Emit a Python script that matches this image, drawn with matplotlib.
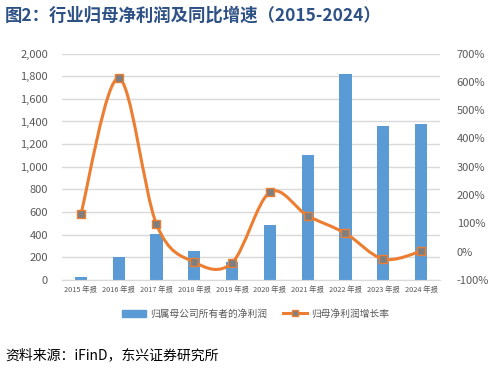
import numpy as np
import matplotlib
matplotlib.use("Agg")
import matplotlib.pyplot as plt
from matplotlib.path import Path
from matplotlib.patches import PathPatch
from matplotlib.lines import Line2D
from matplotlib.patches import Patch

plt.rcParams['font.family'] = ['Noto Sans CJK SC', 'DejaVu Sans']

years = ['2015 年报', '2016 年报', '2017 年报', '2018 年报', '2019 年报',
         '2020 年报', '2021 年报', '2022 年报', '2023 年报', '2024 年报']
profit = [28, 206, 409, 256, 156, 483, 1103, 1818, 1359, 1380]   # 归属母公司所有者的净利润
growth = [133, 613, 97, -37, -39, 210, 127, 65, -26, 1.5]          # 同比增速 %

blue = '#5b9bd5'
orange = '#ed7d31'
gray_txt = '#595959'
grid_c = '#d9d9d9'

fig = plt.figure(figsize=(4.96, 3.68), dpi=100)
ax = fig.add_axes([0.125, 0.239, 0.762, 0.6155])
x = np.arange(len(years))

ax.bar(x, profit, width=0.32, color=blue, zorder=2)
ax.set_xlim(-0.5, len(years) - 0.5)
ax.set_ylim(0, 2000)
ax.set_yticks(range(0, 2001, 200))
ax.set_yticklabels([f'{v:,}' for v in range(0, 2001, 200)])
ax.yaxis.grid(True, color=grid_c, linewidth=1)
ax.set_axisbelow(True)
ax.set_xticks(x)
ax.set_xticklabels(years, fontsize=5.3, color=gray_txt)
ax.tick_params(axis='y', labelsize=8, colors=gray_txt, length=0, pad=10)
ax.tick_params(axis='x', length=0, pad=4)
for s in ['top', 'right', 'left']:
    ax.spines[s].set_visible(False)
ax.spines['bottom'].set_color(grid_c)

ax2 = ax.twinx()
ax2.set_ylim(-100, 700)
ax2.set_yticks(range(-100, 701, 100))
ax2.set_yticklabels([f'{v}%' for v in range(-100, 701, 100)])
ax2.tick_params(axis='y', labelsize=8, colors=gray_txt, length=0, pad=12)
for s in ax2.spines.values():
    s.set_visible(False)

# smoothed line (Catmull-Rom style Bezier, like Excel's smooth line)
pts = np.column_stack([x, growth]).astype(float)
verts = [pts[0]]
codes = [Path.MOVETO]
n = len(pts)
for i in range(n - 1):
    p0 = pts[i - 1] if i > 0 else pts[i]
    p1 = pts[i]
    p2 = pts[i + 1]
    p3 = pts[i + 2] if i + 2 < n else pts[i + 1]
    c1 = p1 + (p2 - p0) / 6
    c2 = p2 - (p3 - p1) / 6
    verts += [c1, c2, p2]
    codes += [Path.CURVE4] * 3
ax2.add_patch(PathPatch(Path(verts, codes), facecolor='none', edgecolor=orange,
                        linewidth=2.2, zorder=3, capstyle='round'))
ax2.plot(x, growth, linestyle='none', marker='s', markersize=5.5,
         markerfacecolor='#7f7f7f', markeredgecolor=orange, markeredgewidth=1, zorder=4)

handles = [Patch(color=blue),
           Line2D([], [], color=orange, linewidth=2.2, marker='s', markersize=4,
                  markerfacecolor='#7f7f7f', markeredgecolor=orange)]
fig.legend(handles, ['归属母公司所有者的净利润', '归母净利润增长率'],
           loc='center', bbox_to_anchor=(0.515, 0.148), ncol=2, frameon=False,
           fontsize=7, labelcolor=gray_txt, handlelength=2.5, columnspacing=1.6,
           handletextpad=0.4)

fig.text(0.01, 0.958, '图2：行业归母净利润及同比增速（2015-2024）', fontsize=12.5,
         fontweight='bold', color='#2e5185', va='center', ha='left')
fig.text(0.01, 0.035, '资料来源：iFinD，东兴证券研究所', fontsize=10,
         style='italic', color='black', va='center', ha='left')

fig.savefig('out.png', dpi=100)
